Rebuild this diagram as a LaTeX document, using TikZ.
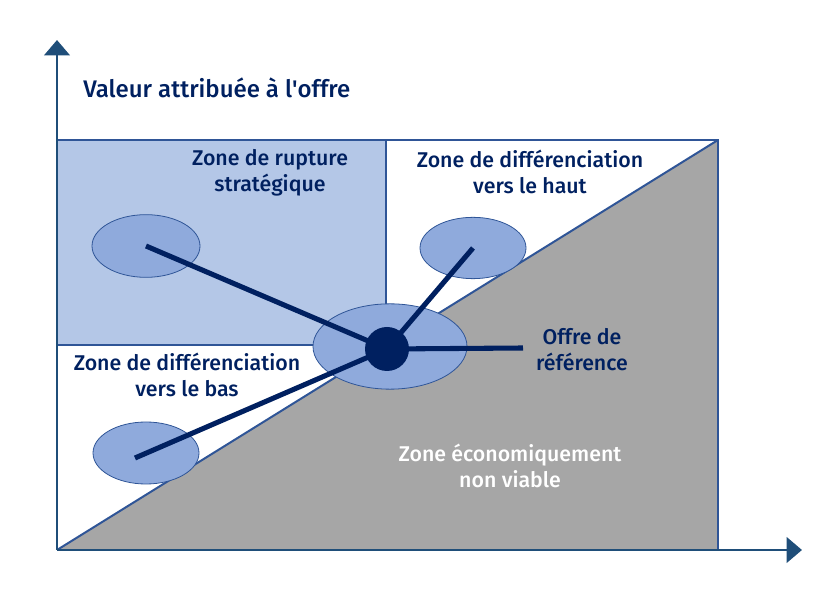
\documentclass[tikz,border=0pt]{standalone}
\usepackage{fontspec}
\setmainfont{Fira Sans}[UprightFont={* Medium}]
\usetikzlibrary{arrows.meta}
\usetikzlibrary{shapes.geometric}

\definecolor{navy}{HTML}{002060}
\definecolor{axisblue}{HTML}{1F4E79}
\definecolor{frameblue}{HTML}{2F5597}
\definecolor{rupturefill}{HTML}{B4C7E7}
\definecolor{offerblue}{HTML}{8FAADC}
\definecolor{deadgrey}{HTML}{A6A6A6}

\begin{document}
\begin{tikzpicture}[x=0.75pt, y=-0.75pt]
            \tikzstyle{axis} = [draw=axisblue, line width=2.2pt, -{Triangle[length=11.5pt, width=19pt]}]
            \tikzstyle{zone line} = [draw=frameblue, line width=1.5pt]
            \tikzstyle{offer} = [ellipse, fill=offerblue, draw=frameblue, line width=0.6pt, inner sep=0pt]
            \tikzstyle{link} = [draw=navy, line width=3.8pt]
            \tikzstyle{zone label} = [text=navy, font=\fontsize{16}{19.5}\selectfont, align=center]
            
            \useasboundingbox (0, 0) rectangle (833, 616);
            
            % zones
            \fill[rupturefill] (57, 140) rectangle (386, 345);
            \fill[deadgrey] (57, 550) -- (718, 140) -- (718, 550) -- cycle;
            \draw[zone line] (57, 140) -- (718, 140) -- (718, 550);
            \draw[zone line] (57, 345) -- (386, 345) -- (386, 140);
            \draw[zone line] (57, 550) -- (718, 140);
            
            % axes
            \draw[axis] (57, 550) -- (57, 40);
            \draw[axis] (57, 550) -- (802, 550);
            
            % offers
            \node[offer, minimum width=81pt, minimum height=47pt] (e rupture) at (146, 246) {};
            \node[offer, minimum width=79.5pt, minimum height=46pt] (e haut) at (473, 248) {};
            \node[offer, minimum width=79.5pt, minimum height=46.5pt] (e bas) at (146, 453) {};
            \node[offer, minimum width=115.5pt, minimum height=64pt] (e centre) at (390, 346.5) {};
            \coordinate (ref end) at (523, 348);
            \coordinate (dot c) at (387, 349);
            
            \draw[link] (dot c) -- (e rupture.center);
            \draw[link] (dot c) -- (e haut.center);
            \draw[link] (dot c) -- ([shift={(-11, 5)}]e bas.center);
            \draw[link] (dot c) -- (ref end);
            \node[circle, fill=navy, minimum size=33pt, inner sep=0pt] (ref) at (dot c) {};
            
            \node[zone label, font=\fontsize{18}{22}\selectfont, anchor=west, inner sep=0pt] (titre) at (83, 88) {Valeur attribuée à l\textquotesingle offre};
            \node[zone label] (l rupture) at (270, 173) {Zone de rupture\\stratégique};
            \node[zone label] (l haut) at (530, 172) {Zone de différenciation\\vers le haut};
            \node[zone label] (l bas) at (187, 375) {Zone de différenciation\\vers le bas};
            \node[zone label] (l ref) at (582, 350) {Offre de\\référence};
            \node[zone label, text=white] (l viable) at (510, 466) {Zone économiquement\\non viable};
        \end{tikzpicture}
\end{document}
